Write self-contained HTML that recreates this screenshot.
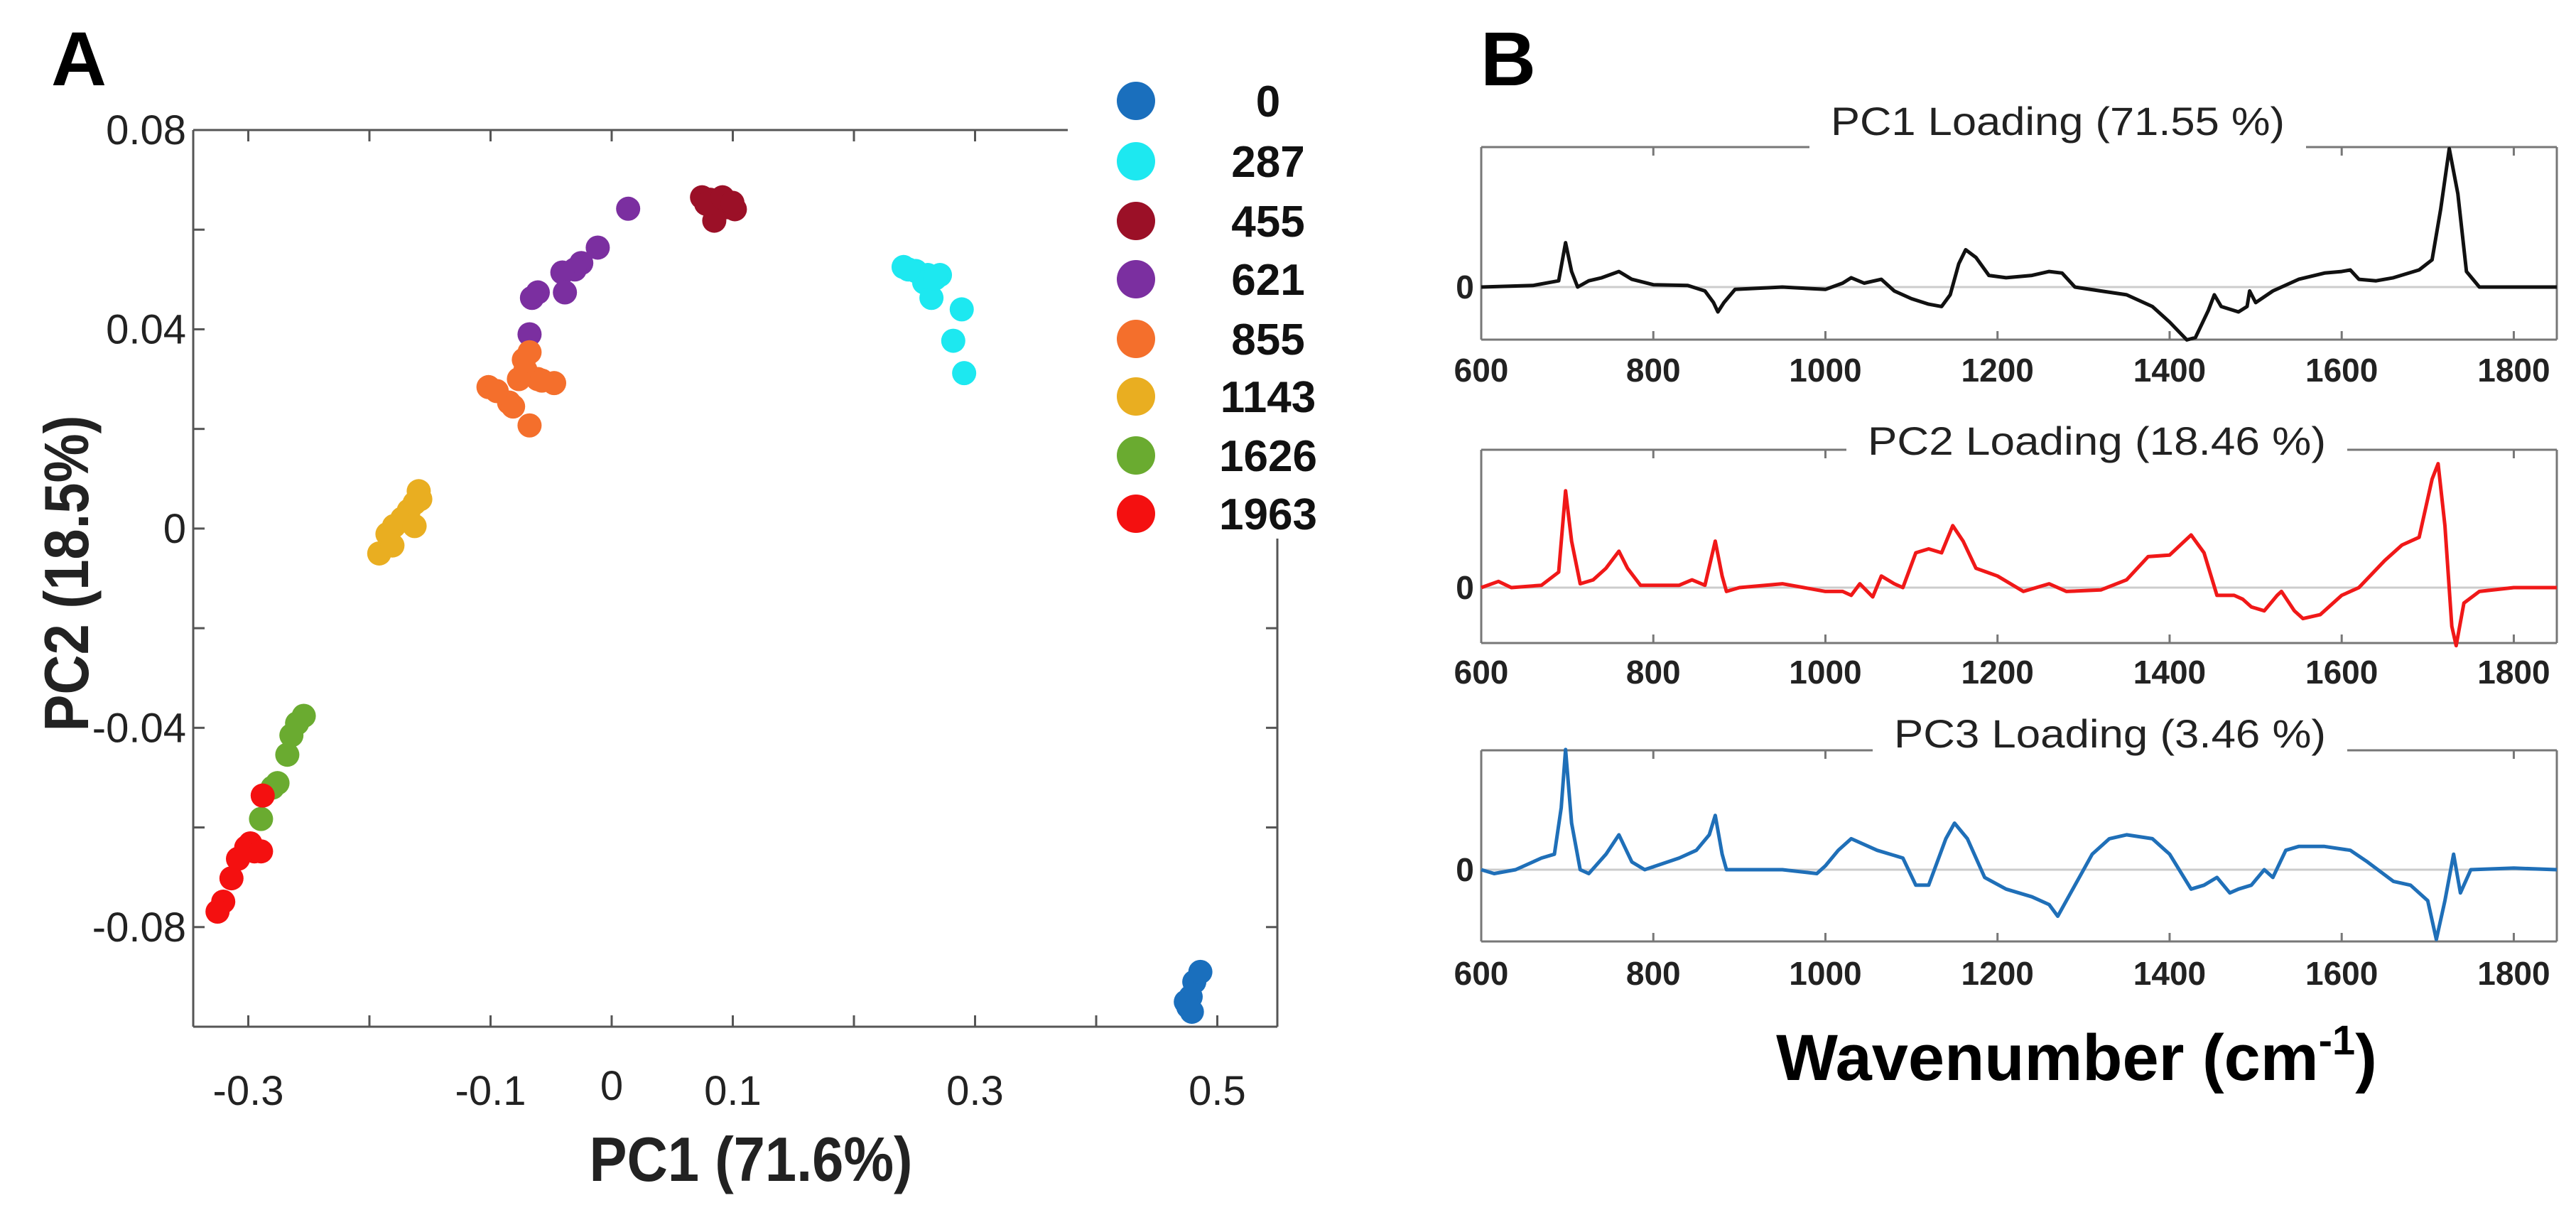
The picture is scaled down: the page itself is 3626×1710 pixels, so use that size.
<!DOCTYPE html>
<html><head><meta charset="utf-8"><style>
html,body{margin:0;padding:0;background:#fff;}
svg{display:block;font-family:"Liberation Sans",sans-serif;}
</style></head><body>
<svg id="fig" width="3626" height="1710" viewBox="0 0 3626 1710">
<rect width="3626" height="1710" fill="#fff"/>
<text x="72" y="120" font-size="108" font-weight="bold">A</text>
<text x="2084" y="120" font-size="108" font-weight="bold">B</text>
<g id="pa"></g>
<g id="pb"></g>
<text x="1057" y="1662" font-size="88" font-weight="bold" text-anchor="middle" textLength="455" lengthAdjust="spacingAndGlyphs" fill="#222">PC1 (71.6%)</text>
<text transform="translate(124,807) rotate(-90)" font-size="88" font-weight="bold" text-anchor="middle" textLength="445" lengthAdjust="spacingAndGlyphs" fill="#222">PC2 (18.5%)</text>
<text x="2923" y="1520" font-size="92" font-weight="bold" text-anchor="middle" fill="#000">Wavenumber (cm<tspan dy="-36" font-size="58">-1</tspan><tspan dy="36">)</tspan></text>
</svg>
<script>
const NS="http://www.w3.org/2000/svg";
// ---------- Panel A data ----------
const groups=["0","287","455","621","855","1143","1626","1963"];
const groupColors=["#1a6fbd","#1de8f0","#9b1027","#7b2fa0","#f46f2c","#e9ae21","#6aab30","#f41010"];
const pcX0=[0.478,0.481,0.486,0.476,0.474,0.479];
const pcY0=[-0.094,-0.091,-0.089,-0.096,-0.095,-0.097];
const pcX287=[0.241,0.251,0.261,0.271,0.258,0.264,0.289,0.282,0.291,0.245,0.267];
const pcY287=[0.0525,0.0517,0.0509,0.0509,0.0494,0.0463,0.0440,0.0377,0.0312,0.0520,0.0502];
const pcX455=[0.0746,0.0814,0.0881,0.0949,0.1017,0.0847,0.078,0.0915,0.0997];
const pcY455=[0.0665,0.066,0.0649,0.0645,0.0641,0.0618,0.0652,0.0665,0.0654];
const pcX621=[0.0136,-0.0115,-0.0251,-0.0305,-0.0407,-0.0386,-0.0610,-0.0658,-0.0678];
const pcY621=[0.0642,0.0564,0.0533,0.0520,0.0514,0.0474,0.0474,0.0463,0.0390];
const pcX855=[-0.1017,-0.0949,-0.0847,-0.0814,-0.0766,-0.0725,-0.0678,-0.0712,-0.0610,-0.0475,-0.0678,-0.0576];
const pcY855=[0.0284,0.0276,0.0253,0.0245,0.0300,0.0339,0.0354,0.0318,0.0300,0.0292,0.0207,0.0297];
const pcX1143=[-0.1919,-0.1851,-0.1797,-0.1729,-0.1675,-0.1627,-0.1593,-0.1580,-0.1627,-0.1810];
const pcY1143=[-0.0050,-0.0011,0.0005,0.0020,0.0036,0.0051,0.0075,0.0059,0.0005,-0.0034];
const pcX1626=[-0.2542,-0.2597,-0.2644,-0.2678,-0.2759,-0.2800,-0.2895];
const pcY1626=[-0.0376,-0.0391,-0.0415,-0.0454,-0.0511,-0.0520,-0.0583];
const pcX1963=[-0.2881,-0.2983,-0.3017,-0.3085,-0.2949,-0.3139,-0.3207,-0.3254,-0.2895];
const pcY1963=[-0.0536,-0.0632,-0.0640,-0.0663,-0.0648,-0.0702,-0.0749,-0.0769,-0.0648];
const xTickVals=[-0.3,-0.2,-0.1,0,0.1,0.2,0.3,0.4,0.5];
const xTickLabels=["-0.3","-0.1","0","0.1","0.3","0.5"];
const yTickVals=[0.08,0.06,0.04,0.02,0,-0.02,-0.04,-0.06,-0.08];
const yTickLabels=["0.08","0.04","0","-0.04","-0.08"];

// ---------- Panel B data ----------
const wn1=[600,660,690,698,705,712,725,740,760,775,800,840,860,870,875,882,895,950,1000,1020,1030,1045,1065,1080,1100,1120,1135,1145,1155,1163,1175,1190,1210,1240,1260,1275,1290,1320,1350,1380,1400,1420,1430,1445,1452,1460,1480,1490,1493,1500,1520,1550,1580,1600,1610,1620,1640,1660,1690,1705,1715,1725,1735,1745,1760,1800,1850];
const load1=[0,2,8,57,20,0,8,12,20,10,3,2,-5,-20,-32,-20,-3,0,-3,5,12,5,10,-5,-15,-22,-25,-10,30,48,38,15,12,15,20,18,0,-5,-10,-25,-45,-68,-65,-30,-10,-25,-32,-25,-5,-20,-5,10,18,20,22,10,8,12,22,35,100,178,120,20,0,0,0];
const wn2=[600,620,635,670,690,698,705,715,730,745,760,770,785,830,845,860,872,880,885,900,950,1000,1020,1030,1040,1055,1065,1080,1090,1105,1120,1135,1148,1160,1175,1200,1230,1260,1280,1320,1350,1375,1400,1425,1440,1455,1475,1485,1495,1510,1525,1530,1545,1555,1575,1600,1620,1650,1670,1690,1705,1712,1720,1728,1733,1742,1760,1800,1850];
const load2=[0,8,0,3,20,125,60,5,10,25,47,25,3,3,10,3,60,15,-5,0,5,-5,-5,-10,5,-12,15,5,0,45,50,45,80,60,25,15,-5,5,-5,-3,10,40,42,68,45,-10,-10,-15,-25,-30,-10,-5,-30,-40,-35,-10,0,35,55,65,140,160,80,-50,-75,-20,-5,0,0];
const wn3=[600,615,640,660,670,685,693,698,705,715,725,745,760,775,790,830,850,865,872,880,885,900,950,990,1000,1015,1030,1060,1090,1105,1120,1140,1150,1165,1185,1210,1240,1260,1270,1285,1310,1330,1350,1380,1400,1425,1440,1455,1470,1480,1495,1510,1520,1535,1550,1580,1610,1630,1660,1680,1700,1710,1720,1730,1738,1750,1800,1850];
const load3=[0,-5,0,10,15,20,80,155,60,0,-5,20,45,10,0,15,25,45,70,20,0,0,0,-5,5,25,40,25,15,-20,-20,40,60,40,-10,-25,-35,-45,-60,-30,20,40,45,40,20,-25,-20,-10,-30,-25,-20,0,-10,25,30,30,25,10,-15,-20,-40,-90,-40,20,-30,0,2,0];
const wnTicks=[600,800,1000,1200,1400,1600,1800];

function el(tag,attrs,parent){const e=document.createElementNS(NS,tag);for(const k in attrs)e.setAttribute(k,attrs[k]);parent.appendChild(e);return e;}

// ---------- Draw Panel A ----------
(function(){
 const g=document.getElementById('pa');
 const L=272,R=1798,T=183,B=1445;
 const xmin=-0.3+(L-(861-3*170.5))/1705, xmax=xmin+(R-L)/1705;
 const ymin=-0.1,ymax=0.08;
 const sx=v=>L+(v-xmin)/(xmax-xmin)*(R-L);
 const sy=v=>B-(v-ymin)/(ymax-ymin)*(B-T);
 const ax="#555";
 let e;
 e=el('line',{x1:L,y1:T,x2:L,y2:B,stroke:ax,'stroke-width':3},g);
 e=el('line',{x1:L,y1:B,x2:R,y2:B,stroke:ax,'stroke-width':3},g);
 e=el('line',{x1:L,y1:T,x2:1503,y2:T,stroke:ax,'stroke-width':3},g);
 e=el('line',{x1:R,y1:758,x2:R,y2:B,stroke:ax,'stroke-width':3},g);
 xTickVals.forEach(v=>{const x=sx(v);
  e=el('line',{x1:x,y1:B,x2:x,y2:B-16,stroke:ax,'stroke-width':3},g);
  if(x<1503){e=el('line',{x1:x,y1:T,x2:x,y2:T+16,stroke:ax,'stroke-width':3},g);}
 });
 xTickLabels.forEach(s=>{const v=parseFloat(s);
  const t=el('text',{x:sx(v),y:(s==="0"?1548:1555),'font-size':58,'text-anchor':'middle',fill:'#222'},g);t.textContent=s;
  });
 yTickVals.forEach(v=>{const y=sy(v);
  e=el('line',{x1:L,y1:y,x2:L+16,y2:y,stroke:ax,'stroke-width':3},g);
  if(y>758){e=el('line',{x1:R,y1:y,x2:R-16,y2:y,stroke:ax,'stroke-width':3},g);}
 });
 yTickLabels.forEach(s=>{const v=parseFloat(s);
  const t=el('text',{x:262,y:sy(v)+20,'font-size':58,'text-anchor':'end',fill:'#222'},g);t.textContent=s;
  });
 const XS=[pcX0,pcX287,pcX455,pcX621,pcX855,pcX1143,pcX1626,pcX1963];
 const YS=[pcY0,pcY287,pcY455,pcY621,pcY855,pcY1143,pcY1626,pcY1963];
 for(let k=0;k<groups.length;k++){
  XS[k].forEach((xv,i)=>{
   const c=el('circle',{cx:sx(xv),cy:sy(YS[k][i]),r:17,fill:groupColors[k]},g);
   
   
  });
 }
 const legY=[142,227,311,393,477,558,641,723];
 groups.forEach((name,k)=>{
  const c=el('circle',{cx:1599,cy:legY[k],r:27,fill:groupColors[k]},g);
  
  
  const t=el('text',{x:1785,y:legY[k]+22,'font-size':62,'font-weight':'bold','text-anchor':'middle',fill:'#111'},g);t.textContent=name;
  
  
 });
})();

// ---------- Draw Panel B ----------
(function(){
 const g=document.getElementById('pb');
 const L=2085,R=3599;
 const sx=w=>L+(w-600)/(1850-600)*(R-L);
 const subs=[
  {wn:wn1,val:load1,T:207,B:478,Z:404,lo:-68,hi:180,color:"#111",title:"PC1 Loading (71.55 %)",ty:190,gap:[2547,3246],tly:537,name:'pc1'},
  {wn:wn2,val:load2,T:633,B:905,Z:827,lo:-72,hi:178,color:"#f01818",title:"PC2 Loading (18.46 %)",ty:640,gap:[2599,3304],tly:962,name:'pc2'},
  {wn:wn3,val:load3,T:1056,B:1325,Z:1224,lo:-93,hi:154,color:"#1f6fb8",title:"PC3 Loading (3.46 %)",ty:1052,gap:[2636,3304],tly:1386,name:'pc3'}
 ];
 const ax="#777";
 subs.forEach(s=>{
  const sy=v=>s.Z-v/(s.hi)*(s.Z-s.T);
  let e;
  e=el('line',{x1:L,y1:s.T,x2:L,y2:s.B,stroke:ax,'stroke-width':3},g);
  e=el('line',{x1:R,y1:s.T,x2:R,y2:s.B,stroke:ax,'stroke-width':3},g);
  e=el('line',{x1:L,y1:s.B,x2:R,y2:s.B,stroke:ax,'stroke-width':3},g);
  e=el('line',{x1:L,y1:s.T,x2:s.gap[0],y2:s.T,stroke:ax,'stroke-width':3},g);
  e=el('line',{x1:s.gap[1],y1:s.T,x2:R,y2:s.T,stroke:ax,'stroke-width':3},g);
  e=el('line',{x1:L,y1:s.Z,x2:R,y2:s.Z,stroke:"#ccc",'stroke-width':3},g);
  wnTicks.forEach(w=>{const x=sx(w);
   e=el('line',{x1:x,y1:s.B,x2:x,y2:s.B-12,stroke:ax,'stroke-width':3},g);
   if(x<s.gap[0]||x>s.gap[1]){e=el('line',{x1:x,y1:s.T,x2:x,y2:s.T+12,stroke:ax,'stroke-width':3},g);}
   const t=el('text',{x:x,y:s.tly,'font-size':46,'font-weight':'bold','text-anchor':'middle',fill:'#222'},g);t.textContent=String(w);
   
  });
  const z=el('text',{x:2062,y:s.Z+16,'font-size':46,'font-weight':'bold','text-anchor':'middle',fill:'#222'},g);z.textContent="0";
  
  const tt=el('text',{x:(s.gap[0]+s.gap[1])/2,y:s.ty,'font-size':56,'text-anchor':'middle',fill:'#222',textLength:(s.gap[1]-s.gap[0]-60),lengthAdjust:'spacingAndGlyphs'},g);tt.textContent=s.title;
  
  let d="";
  s.wn.forEach((w,i)=>{d+=(i?"L":"M")+sx(w).toFixed(1)+","+sy(s.val[i]).toFixed(1);});
  const p=el('path',{d:d,fill:'none',stroke:s.color,'stroke-width':5,'stroke-linejoin':'round'},g);
  
  
 });
})();
</script>
</body></html>
